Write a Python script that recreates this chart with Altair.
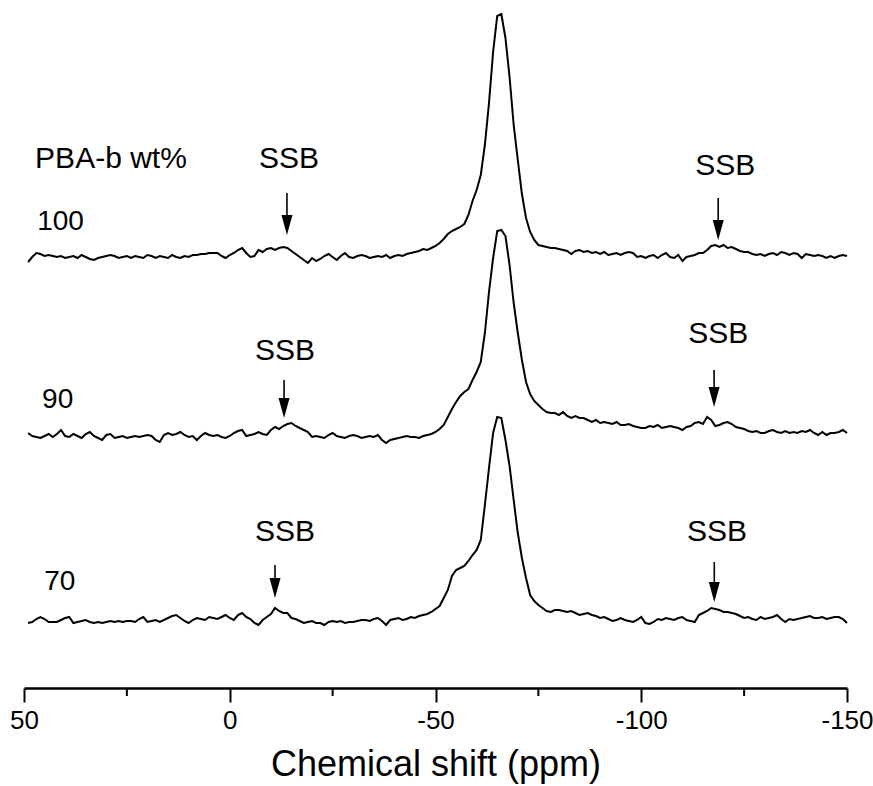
import altair as alt
import pandas as pd

# chemical shift grid (ppm), 1 ppm steps from 49 to -150
ppm = list(range(49, -151, -1))

# intensities (a.u., relative to each trace's own baseline)
pba100 = [
    -6, -1, 3, 2, 0, 1, 0, -1, 0, -2,
    -1, 0, -2, 1, -1, -3, -4, -2, -1, 0,
    1, 0, -2, -1, 0, -2, 0, -1, -2, 1,
    0, -2, 0, -1, -2, 1, -1, -2, 0, -1,
    1, 1, 2, 2, 3, 3, 3, 0, -2, 1,
    3, 6, 8, 3, -1, 0, 6, 4, 7, 8,
    6, 8, 9, 8, 5, 2, -1, -4, -7, -2,
    -5, -3, 0, 2, -1, -4, 0, 3, -1, -2,
    0, 1, 0, -2, -1, 0, -1, 1, -2, 0,
    1, 0, 2, 3, 4, 5, 7, 6, 8, 10,
    13, 17, 22, 25, 27, 29, 32, 41, 55, 66,
    81, 111, 153, 204, 240, 242, 218, 179, 131, 96,
    62, 38, 24, 16, 11, 10, 9, 8, 8, 7,
    6, 5, 2, 5, 6, 4, 5, 3, 4, 2,
    4, 1, 2, 3, 1, 3, 4, 3, -1, 0,
    -2, 0, 1, -2, 1, 3, -1, -2, 1, -5,
    -1, 0, 1, 3, 3, 6, 10, 11, 9, 11,
    8, 9, 7, 5, 4, 4, 2, 1, 2, 0,
    2, 3, 1, 4, 3, 1, 3, 2, -2, 2,
    1, 0, 1, 0, -2, 0, -2, 0, 1, 0,
]
pba90 = [
    3, 0, -1, -2, 0, 2, -1, 2, 6, 0,
    -1, 2, 0, -2, 2, 4, 0, -2, -4, 1,
    2, -2, -1, 0, -2, -1, 0, -1, 0, 1,
    0, -4, -6, 1, 3, 1, 2, 4, 1, -1,
    0, -4, 0, 3, 1, 0, 1, -1, -2, 0,
    3, 5, 6, 0, 1, 2, 4, 2, 1, 6,
    9, 7, 10, 12, 13, 10, 8, 6, 4, -1,
    0, -1, -2, 1, 3, 0, -1, -2, 0, 1,
    0, -2, -1, 0, -1, 1, -4, -7, -4, -3,
    -2, -1, 0, -1, -1, -2, 0, 1, 2, 4,
    7, 11, 19, 27, 34, 40, 44, 47, 56, 64,
    74, 103, 144, 178, 205, 206, 200, 171, 133, 103,
    76, 54, 42, 35, 31, 27, 24, 23, 23, 21,
    24, 20, 18, 20, 18, 18, 16, 14, 16, 13,
    14, 13, 12, 14, 11, 11, 12, 10, 9, 8,
    8, 10, 9, 11, 8, 9, 10, 9, 8, 6,
    9, 10, 13, 14, 12, 19, 16, 10, 11, 13,
    14, 12, 9, 8, 7, 5, 4, 5, 3, 3,
    5, 6, 4, 3, 5, 3, 4, 3, 5, 4,
    6, 3, 1, 4, 1, 3, 3, 4, 6, 3,
]
pba70 = [
    -2, -1, 2, 4, 2, -1, -1, -1, 1, 3,
    4, -2, -1, 0, 1, -1, -2, -1, -2, -1,
    0, -1, 0, -1, 0, 0, -1, 2, 4, -1,
    0, 1, -1, 1, 3, 5, 6, 3, 0, -2,
    1, 3, 2, 1, 4, 3, 2, 4, 6, 3,
    1, 6, 8, 4, 2, -2, -4, 1, 4, 7,
    13, 10, 8, 8, 3, 2, 0, -2, -1, 0,
    -2, -2, -4, -1, 0, -1, 0, -2, -1, -1,
    0, 1, 1, 0, 2, 3, 0, -4, 1, 2,
    3, 1, 2, 4, 3, 5, 6, 7, 9, 12,
    15, 23, 31, 45, 51, 53, 55, 60, 66, 71,
    81, 116, 153, 188, 204, 203, 181, 155, 121, 88,
    63, 43, 26, 20, 16, 13, 10, 9, 11, 11,
    10, 9, 10, 8, 6, 7, 8, 6, 5, 3,
    4, 2, 0, 1, 3, 1, 0, -1, 1, 4,
    -2, -3, -1, 2, 1, 3, 2, 1, 3, 4,
    1, 0, -1, 6, 8, 10, 13, 12, 11, 9,
    9, 8, 7, 5, 3, 4, 2, 1, 4, 2,
    3, 4, 6, 2, -1, 2, 1, 2, 3, 4,
    5, 3, 3, 4, 2, 3, 4, 4, 2, -2,
]

samples = ["100", "90", "70"]
offsets = [432, 252, 67]  # vertical stacking offset of each trace
series = [pba100, pba90, pba70]

# legend heading and sample labels
heading_text = ["PBA-b wt%"]
heading_ppm = [47.3]
heading_y = [529]
label_text = ["100", "90", "70"]
label_ppm = [46.8, 45.6, 45.1]
label_y = [466, 288, 106]

# SSB annotations: text position, arrow x, arrow top, arrow tip
ssb_text_ppm = [-14.4, -120.4, -13.4, -118.7, -13.4, -118.4]
ssb_text_y = [529, 522, 337, 354, 156, 156]
arrow_ppm = [-13.9, -118.7, -13.2, -117.7, -11.0, -117.75]
arrow_top = [495, 490, 308, 318, 123, 126]
arrow_tip = [453, 448, 270, 281, 90, 86]

major_ticks = [50, 0, -50, -100, -150]
minor_ticks = [25, -25, -75, -125]

rows = []
for s, off, vals in zip(samples, offsets, series):
    for p, v in zip(ppm, vals):
        rows.append({"sample": s, "ppm": p, "y": off + v})
df = pd.DataFrame(rows)

arrows = pd.DataFrame({
    "ppm": arrow_ppm,
    "top": arrow_top,
    "shaft_end": [t + 18 for t in arrow_tip],
    "head": [t + 10 for t in arrow_tip],
})
ssb = pd.DataFrame({"ppm": ssb_text_ppm, "y": ssb_text_y, "t": ["SSB"] * 6})
heading = pd.DataFrame({"ppm": heading_ppm, "y": heading_y, "t": heading_text})
labels = pd.DataFrame({"ppm": label_ppm, "y": label_y, "t": label_text})
minor = pd.DataFrame({"ppm": minor_ticks})

FONT = "Liberation Sans"
xscale = alt.Scale(domain=[50, -150], nice=False, zero=False)
yscale = alt.Scale(domain=[0, 683], nice=False, zero=False)

x_axis = alt.Axis(
    values=major_ticks, labelExpr="'' + datum.value", tickSize=14, tickWidth=2,
    tickColor="black", domainWidth=2.5, domainColor="black", labelFontSize=26,
    labelFont=FONT, labelColor="black", labelPadding=5, labelFlush=False,
    labelOverlap=False, title="Chemical shift (ppm)", titleFontSize=36,
    titleFont=FONT, titleFontWeight="normal", titleColor="black", titlePadding=14,
    grid=False,
)

lines = alt.Chart(df).mark_line(color="black", strokeWidth=2).encode(
    x=alt.X("ppm:Q", scale=xscale, axis=x_axis),
    y=alt.Y("y:Q", scale=yscale, axis=None),
    detail="sample:N",
    order=alt.Order("ppm:Q", sort="descending"),
)

minor_rules = alt.Chart(minor).mark_rule(color="black", strokeWidth=2).encode(
    x=alt.X("ppm:Q", scale=xscale),
    y=alt.value(683),
    y2=alt.value(691),
)

shafts = alt.Chart(arrows).mark_rule(color="black", strokeWidth=1.6).encode(
    x=alt.X("ppm:Q", scale=xscale),
    y=alt.Y("top:Q", scale=yscale),
    y2="shaft_end:Q",
)

heads = alt.Chart(arrows).mark_point(
    shape="M-0.55,-1L0.55,-1L0,1Z", filled=True, color="black", size=400, opacity=1
).encode(
    x=alt.X("ppm:Q", scale=xscale),
    y=alt.Y("head:Q", scale=yscale),
)

ssb_text = alt.Chart(ssb).mark_text(
    font=FONT, fontSize=30, color="black", align="center", baseline="middle"
).encode(
    x=alt.X("ppm:Q", scale=xscale),
    y=alt.Y("y:Q", scale=yscale),
    text="t:N",
)

heading_mark = alt.Chart(heading).mark_text(
    font=FONT, fontSize=30, color="black", align="left", baseline="middle"
).encode(
    x=alt.X("ppm:Q", scale=xscale),
    y=alt.Y("y:Q", scale=yscale),
    text="t:N",
)

label_marks = alt.Chart(labels).mark_text(
    font=FONT, fontSize=28, color="black", align="left", baseline="middle"
).encode(
    x=alt.X("ppm:Q", scale=xscale),
    y=alt.Y("y:Q", scale=yscale),
    text="t:N",
)

chart = alt.layer(
    lines, minor_rules, shafts, heads, ssb_text, heading_mark, label_marks
).properties(
    width=823,
    height=683,
    padding={"left": 24, "top": 5, "right": 26, "bottom": 98},
    autosize=alt.AutoSizeParams(type="none"),
    background="white",
).configure_view(stroke=None)

chart.save("out.html", embed_options={"renderer": "svg", "actions": False})
